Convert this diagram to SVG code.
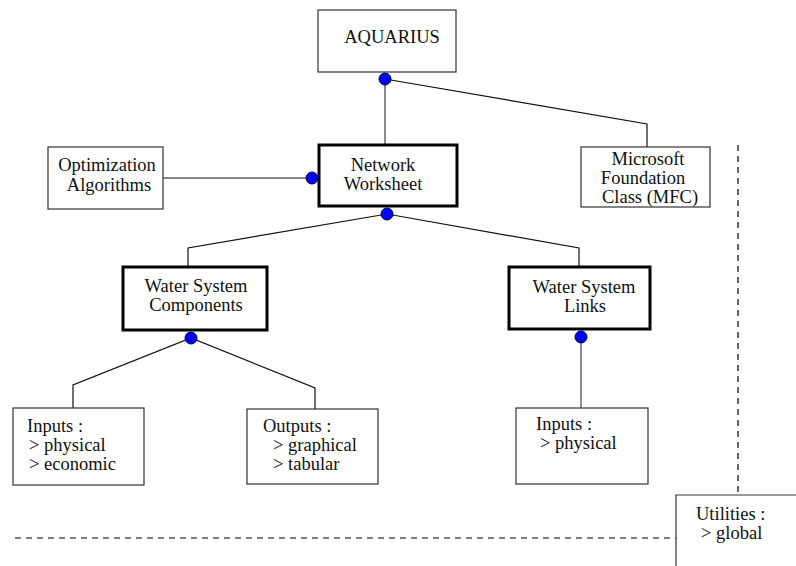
<svg xmlns="http://www.w3.org/2000/svg" width="796" height="566" viewBox="0 0 796 566">
<style>
text{font-family:"Liberation Serif","Times New Roman",serif;font-size:18.5px;fill:#111}
.box{fill:#fff;stroke:#333;stroke-width:1.2}
.thick{fill:#fff;stroke:#000;stroke-width:3}
.c{text-anchor:middle}
.ln{fill:none;stroke:#111;stroke-width:1.2}
.gl{fill:none;stroke:#666;stroke-width:1.5}
.dash{fill:none;stroke:#000;stroke-width:1.2;stroke-dasharray:6 5}
.dot{fill:#0000ff;stroke:#000033;stroke-width:1}
</style>
<rect width="796" height="566" fill="#fff"/>
<g id="connectors">
<line class="gl" x1="385" y1="79" x2="385" y2="145"/>
<polyline class="ln" points="385,79 647,124 647,147"/>
<line class="ln" x1="163" y1="178" x2="312" y2="178"/>
<polyline class="ln" points="188,267 188,248 387,214 579,248 579,267"/>
<polyline class="ln" points="73,408 73,385 191,338 315,388 315,409"/>
<line class="gl" x1="581" y1="337" x2="581" y2="408"/>
<line class="dash" x1="738" y1="145" x2="738" y2="495"/>
<line class="dash" x1="15" y1="538" x2="676" y2="538"/>
</g>
<g id="aquarius">
<rect class="box" x="318" y="10" width="138" height="62"/>
<text x="392" y="43" class="c">AQUARIUS</text>
</g>
<g id="optimization">
<rect class="box" x="48" y="147" width="115" height="62"/>
<text x="107" y="171" class="c">Optimization</text>
<text x="109" y="191" class="c">Algorithms</text>
</g>
<g id="network">
<rect class="thick" x="319" y="145" width="138" height="61"/>
<text x="383" y="171" class="c">Network</text>
<text x="383" y="190" class="c">Worksheet</text>
</g>
<g id="mfc">
<rect class="box" x="581" y="147" width="129" height="60"/>
<text x="648" y="165" class="c">Microsoft</text>
<text x="643" y="184" class="c">Foundation</text>
<text x="650" y="203" class="c">Class (MFC)</text>
</g>
<g id="wsc">
<rect class="thick" x="123" y="267" width="144" height="63"/>
<text x="196" y="292" class="c">Water System</text>
<text x="196" y="311" class="c">Components</text>
</g>
<g id="wsl">
<rect class="thick" x="509" y="267" width="141" height="62"/>
<text x="584" y="293" class="c">Water System</text>
<text x="585" y="312" class="c">Links</text>
</g>
<g id="inputs1">
<rect class="box" x="13" y="408" width="131" height="77"/>
<text x="27" y="432">Inputs :</text>
<text x="29" y="451">&gt; physical</text>
<text x="29" y="470">&gt; economic</text>
</g>
<g id="outputs">
<rect class="box" x="247" y="409" width="131" height="75"/>
<text x="263" y="432">Outputs :</text>
<text x="273" y="451">&gt; graphical</text>
<text x="273" y="470">&gt; tabular</text>
</g>
<g id="inputs2">
<rect class="box" x="516" y="408" width="132" height="76"/>
<text x="536" y="430">Inputs :</text>
<text x="540" y="449">&gt; physical</text>
</g>
<g id="utilities">
<polyline class="box" points="676,566 676,495 796,495"/>
<text x="696" y="520">Utilities :</text>
<text x="701" y="539">&gt; global</text>
</g>
<g id="dots">
<circle class="dot" cx="385" cy="79" r="6"/>
<circle class="dot" cx="312" cy="178" r="6"/>
<circle class="dot" cx="387" cy="214" r="6"/>
<circle class="dot" cx="191" cy="338" r="6"/>
<circle class="dot" cx="581" cy="337" r="6"/>
</g>
</svg>
